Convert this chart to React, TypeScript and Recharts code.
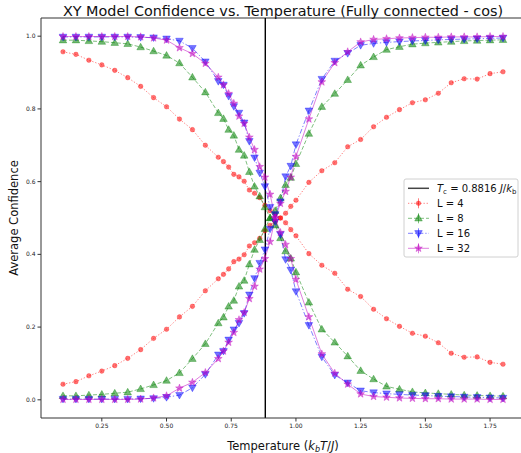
import React from 'react';
import { LineChart, Line, XAxis, YAxis, ReferenceLine } from 'recharts';

// temperature grid (denser around Tc)
const TEMPS = [
  0.1, 0.15, 0.2, 0.25, 0.3, 0.35, 0.4, 0.45, 0.5, 0.55, 0.6, 0.65,
  0.7, 0.72, 0.74, 0.76, 0.78, 0.8, 0.82, 0.84, 0.86, 0.88, 0.9, 0.92, 0.94, 0.96, 0.98, 1.0,
  1.05, 1.1, 1.15, 1.2, 1.25, 1.3, 1.35, 1.4, 1.45, 1.5, 1.55, 1.6, 1.65, 1.7, 1.75, 1.8,
];

// confidence of the low-T class (falling) and the high-T class (rising)
const L4_LOW = [
  0.957, 0.95, 0.934, 0.921, 0.906, 0.886, 0.862, 0.831, 0.806, 0.772, 0.743, 0.7,
  0.667, 0.655, 0.64, 0.62, 0.613, 0.601, 0.577, 0.568, 0.556, 0.535, 0.52, 0.51, 0.5, 0.487, 0.468, 0.451,
  0.402, 0.37, 0.348, 0.304, 0.284, 0.249, 0.223, 0.202, 0.183, 0.175, 0.157, 0.128, 0.117, 0.118, 0.103, 0.098,
];
const L4_HIGH = [
  0.043, 0.05, 0.066, 0.079, 0.094, 0.114, 0.138, 0.169, 0.194, 0.228, 0.257, 0.3,
  0.333, 0.345, 0.36, 0.38, 0.387, 0.399, 0.423, 0.432, 0.444, 0.465, 0.48, 0.49, 0.5, 0.513, 0.532, 0.549,
  0.598, 0.63, 0.652, 0.696, 0.716, 0.751, 0.777, 0.798, 0.817, 0.825, 0.843, 0.872, 0.883, 0.882, 0.897, 0.902,
];
const L8_LOW = [
  0.989, 0.989, 0.987, 0.985, 0.982, 0.979, 0.97, 0.959, 0.947, 0.926, 0.887, 0.846,
  0.789, 0.773, 0.743, 0.727, 0.688, 0.672, 0.627, 0.587, 0.56, 0.53, 0.5, 0.48, 0.445, 0.409, 0.389, 0.351,
  0.268, 0.194, 0.158, 0.12, 0.08, 0.057, 0.037, 0.029, 0.022, 0.019, 0.017, 0.015, 0.013, 0.012, 0.011, 0.01,
];
const L8_HIGH = [
  0.011, 0.011, 0.013, 0.015, 0.018, 0.021, 0.03, 0.041, 0.053, 0.074, 0.113, 0.154,
  0.211, 0.227, 0.257, 0.273, 0.312, 0.328, 0.373, 0.413, 0.44, 0.47, 0.5, 0.52, 0.555, 0.591, 0.611, 0.649,
  0.732, 0.806, 0.842, 0.88, 0.92, 0.943, 0.963, 0.971, 0.978, 0.981, 0.983, 0.985, 0.987, 0.988, 0.989, 0.99,
];
const L16_LOW = [
  0.998, 0.998, 0.998, 0.998, 0.998, 0.998, 0.997, 0.996, 0.993, 0.987, 0.967, 0.93,
  0.876, 0.866, 0.835, 0.807, 0.789, 0.762, 0.711, 0.666, 0.624, 0.587, 0.53, 0.49, 0.455, 0.386, 0.357, 0.298,
  0.205, 0.118, 0.068, 0.047, 0.025, 0.02, 0.017, 0.015, 0.013, 0.012, 0.01, 0.009, 0.008, 0.007, 0.006, 0.005,
];
const L16_HIGH = [
  0.002, 0.002, 0.002, 0.002, 0.002, 0.002, 0.003, 0.004, 0.007, 0.013, 0.033, 0.07,
  0.124, 0.134, 0.165, 0.193, 0.211, 0.238, 0.289, 0.334, 0.376, 0.413, 0.47, 0.51, 0.545, 0.614, 0.643, 0.702,
  0.795, 0.882, 0.932, 0.953, 0.975, 0.98, 0.983, 0.985, 0.987, 0.988, 0.99, 0.991, 0.992, 0.993, 0.994, 0.995,
];
const L32_LOW = [
  0.999, 0.999, 0.999, 0.999, 0.999, 0.999, 0.998, 0.995, 0.989, 0.968, 0.952, 0.925,
  0.887, 0.866, 0.842, 0.815, 0.78, 0.76, 0.722, 0.688, 0.641, 0.612, 0.565, 0.5, 0.46, 0.427, 0.388, 0.331,
  0.228, 0.126, 0.073, 0.043, 0.016, 0.009, 0.007, 0.005, 0.004, 0.003, 0.003, 0.002, 0.002, 0.002, 0.001, 0.001,
];
const L32_HIGH = [
  0.001, 0.001, 0.001, 0.001, 0.001, 0.001, 0.002, 0.005, 0.011, 0.032, 0.048, 0.075,
  0.113, 0.134, 0.158, 0.185, 0.22, 0.24, 0.278, 0.312, 0.359, 0.388, 0.435, 0.5, 0.54, 0.573, 0.612, 0.669,
  0.772, 0.874, 0.927, 0.957, 0.984, 0.991, 0.993, 0.995, 0.996, 0.997, 0.997, 0.998, 0.998, 0.998, 0.999, 0.999,
];

const TC = 0.8816;
const X_TICKS = [0.25, 0.5, 0.75, 1.0, 1.25, 1.5, 1.75];
const Y_TICKS = [0, 0.2, 0.4, 0.6, 0.8, 1.0];

const data = TEMPS.map((t, i) => ({
  t,
  l4lo: L4_LOW[i], l4hi: L4_HIGH[i],
  l8lo: L8_LOW[i], l8hi: L8_HIGH[i],
  l16lo: L16_LOW[i], l16hi: L16_HIGH[i],
  l32lo: L32_LOW[i], l32hi: L32_HIGH[i],
}));

type Kind = 'circle' | 'up' | 'down' | 'star';

function markerShape(kind: Kind, cx: number, cy: number, color: string, s = 1) {
  const op = 0.55;
  if (kind === 'circle') {
    return <circle cx={cx} cy={cy} r={2.3 * s} fill={color} fillOpacity={op} stroke={color} strokeOpacity={op} strokeWidth={0.5} />;
  }
  if (kind === 'up' || kind === 'down') {
    const d = kind === 'up' ? 1 : -1;
    const pts = `${cx},${cy - 3.9 * d * s} ${cx - 3.8 * s},${cy + 2.7 * d * s} ${cx + 3.8 * s},${cy + 2.7 * d * s}`;
    return <polygon points={pts} fill={color} fillOpacity={op} stroke={color} strokeOpacity={op} strokeWidth={0.6} />;
  }
  const pts: string[] = [];
  for (let k = 0; k < 10; k++) {
    const r = (k % 2 === 0 ? 4.1 : 1.7) * s;
    const a = -Math.PI / 2 + (k * Math.PI) / 5;
    pts.push(`${cx + r * Math.cos(a)},${cy + r * Math.sin(a)}`);
  }
  return <polygon points={pts.join(' ')} fill={color} fillOpacity={op} stroke={color} strokeOpacity={op} strokeWidth={0.6} />;
}

const SERIES = [
  { name: 'L = 4', keys: ['l4lo', 'l4hi'], color: '#ff0000', dash: '1.3 1.8', kind: 'circle' as Kind },
  { name: 'L = 8', keys: ['l8lo', 'l8hi'], color: '#008000', dash: '4 2', kind: 'up' as Kind },
  { name: 'L = 16', keys: ['l16lo', 'l16hi'], color: '#0000ff', dash: '5 2 1.3 2', kind: 'down' as Kind },
  { name: 'L = 32', keys: ['l32lo', 'l32hi'], color: '#bf00bf', dash: undefined, kind: 'star' as Kind },
];

const FONT = 'DejaVu Sans, sans-serif';

export default function App() {
  return (
    <div style={{ position: 'absolute', left: 0, top: 0, width: 521, height: 453, overflow: 'hidden', background: '#fff', fontFamily: FONT }}>
      <LineChart width={540} height={453} data={data} margin={{ top: 18, right: 15, bottom: 0, left: 0 }}>
        <XAxis
          dataKey="t"
          type="number"
          domain={[0.015, 1.885]}
          allowDataOverflow
          ticks={X_TICKS}
          tickFormatter={(v: number) => v.toFixed(2)}
          tick={{ fontSize: 6, fill: '#222', fontFamily: FONT }}
          tickSize={3.5}
          height={35}
          stroke="#333"
        />
        <YAxis
          type="number"
          domain={[-0.05, 1.05]}
          allowDataOverflow
          ticks={Y_TICKS}
          tickFormatter={(v: number) => v.toFixed(1)}
          tick={{ fontSize: 6, fill: '#222', fontFamily: FONT }}
          tickSize={3.5}
          width={41}
          stroke="#333"
        />
        <ReferenceLine y={1.05} stroke="#333" strokeWidth={1} />
        <ReferenceLine x={TC} stroke="#000" strokeWidth={1.4} />
        {SERIES.flatMap((s) =>
          s.keys.map((k) => (
            <Line
              key={k}
              dataKey={k}
              type="linear"
              stroke={s.color}
              strokeOpacity={0.5}
              strokeWidth={1}
              strokeDasharray={s.dash}
              isAnimationActive={false}
              activeDot={false}
              legendType="none"
              dot={(p: any) => <g key={`${k}-${p.index}`}>{markerShape(s.kind, p.cx, p.cy, s.color)}</g>}
            />
          )),
        )}
      </LineChart>
      <svg width={521} height={453} style={{ position: 'absolute', left: 0, top: 0, pointerEvents: 'none' }} fontFamily={FONT}>
        <text x={283} y={16} textAnchor="middle" fontSize={14.4} fill="#111">
          XY Model Confidence vs. Temperature (Fully connected - cos)
        </text>
        <text x={283} y={450} textAnchor="middle" fontSize={11.5} fill="#111">
          Temperature (<tspan fontStyle="italic">k</tspan>
          <tspan fontStyle="italic" fontSize={8} dy={2}>b</tspan>
          <tspan fontStyle="italic" dy={-2}>T</tspan>/<tspan fontStyle="italic">J</tspan>)
        </text>
        <text x={18} y={218} textAnchor="middle" fontSize={11.5} fill="#111" transform="rotate(-90 18 218)">
          Average Confidence
        </text>
        <g>
          <rect x={404} y={179} width={114} height={78} rx={2} fill="#fff" fillOpacity={0.85} stroke="#d0d0d0" />
          <line x1={408} x2={429} y1={188.3} y2={188.3} stroke="#444" strokeWidth={1.5} />
          <text x={437} y={191.8} fontSize={10} fill="#111">
            <tspan fontStyle="italic">T</tspan>
            <tspan fontSize={7} dy={2}>c</tspan>
            <tspan dy={-2}> = 0.8816 </tspan>
            <tspan fontStyle="italic">J</tspan>/<tspan fontStyle="italic">k</tspan>
            <tspan fontSize={7} dy={2}>b</tspan>
          </text>
          {SERIES.map((s, i) => {
            const y = 203.3 + i * 15;
            return (
              <g key={s.name}>
                <line x1={408} x2={429} y1={y} y2={y} stroke={s.color} strokeOpacity={0.5} strokeDasharray={s.dash} />
                <line x1={418.5} x2={418.5} y1={y - 5} y2={y + 5} stroke={s.color} strokeOpacity={0.5} />
                {markerShape(s.kind, 418.5, y, s.color)}
                <text x={437} y={y + 3.6} fontSize={10} fill="#111">{s.name}</text>
              </g>
            );
          })}
        </g>
      </svg>
    </div>
  );
}
